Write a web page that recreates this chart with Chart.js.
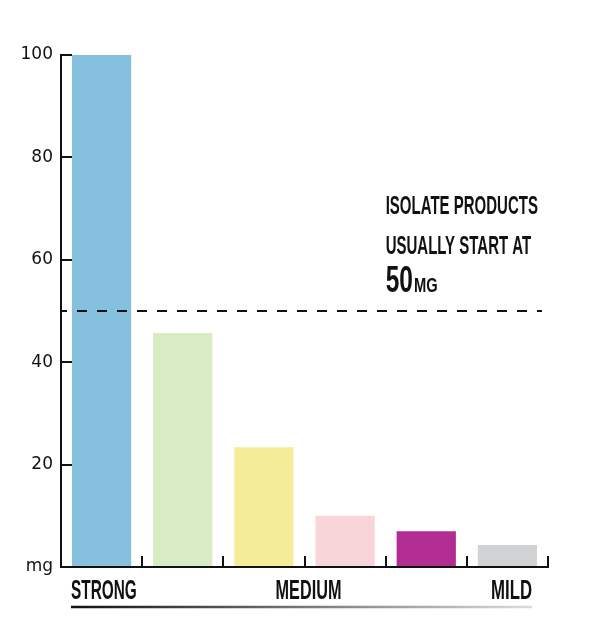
<!DOCTYPE html>
<html>
<head>
<meta charset="utf-8">
<script src="https://cdn.jsdelivr.net/npm/chart.js@4.4.1/dist/chart.umd.min.js"></script>
<style>
  html, body { margin: 0; padding: 0; background: #fff; }
  #wrap { width: 600px; height: 643px; }
</style>
</head>
<body>
<div id="wrap"><canvas id="chart" width="600" height="643"></canvas></div>
<script>
const categories = ['Product 1', 'Product 2', 'Product 3', 'Product 4', 'Product 5', 'Product 6'];
const values = [100, 45.7, 23.4, 10, 7, 4.3];
const barColors = ['#85c1de', '#d9ebc2', '#f4ec99', '#f7d5d9', '#b22d91', '#d1d2d3'];
const yTicks = [0, 20, 40, 60, 80, 100];
const unitLabel = 'mg';
const strengthLabels = ['STRONG', 'MEDIUM', 'MILD'];
const thresholdValue = 50;
const noteLines = ['ISOLATE PRODUCTS', 'USUALLY START AT'];
const noteValue = '50';
const noteUnit = 'MG';

const condensedFont = '"Liberation Sans", Arial, sans-serif';

// draw bold text squeezed horizontally, to mimic a condensed display face
function drawCondensed(ctx, text, x, y, size, squeeze, align) {
  ctx.save();
  ctx.font = `bold ${size}px ${condensedFont}`;
  ctx.textBaseline = 'alphabetic';
  ctx.textAlign = align || 'left';
  ctx.translate(x, y);
  ctx.scale(squeeze, 1);
  ctx.fillText(text, 0, 0);
  const w = ctx.measureText(text).width * squeeze;
  ctx.restore();
  return w;
}

const extras = {
  id: 'extras',
  afterDraw(chart) {
    const ctx = chart.ctx;
    const xs = chart.scales.x;
    const ys = chart.scales.y;
    const bars = chart.getDatasetMeta(0).data;
    const area = chart.chartArea;

    // threshold line
    const yT = ys.getPixelForValue(thresholdValue);
    ctx.save();
    ctx.strokeStyle = '#111';
    ctx.lineWidth = 2;
    ctx.setLineDash([10, 10]);
    ctx.lineDashOffset = 4;
    ctx.beginPath();
    ctx.moveTo(area.left, yT);
    ctx.lineTo(area.right - 6, yT);
    ctx.stroke();
    ctx.restore();

    // note text
    ctx.fillStyle = '#111';
    const noteX = xs.getPixelForValue(3.5);
    drawCondensed(ctx, noteLines[0], noteX, yT - 97, 25, 0.6);
    drawCondensed(ctx, noteLines[1], noteX, yT - 57, 25, 0.6);
    const w = drawCondensed(ctx, noteValue, noteX, yT - 19, 36, 0.68);
    drawCondensed(ctx, noteUnit, noteX + w + 1, yT - 19, 21, 0.7);

    // strength labels under the axis
    const first = bars[0];
    const last = bars[bars.length - 1];
    const left = first.x - first.width / 2 - 1;
    const right = last.x + last.width / 2 - 5;
    const mid = xs.getPixelForValue(2.5) + 4;
    const baseY = ys.getPixelForValue(0) + 32;
    drawCondensed(ctx, strengthLabels[0], left, baseY, 28, 0.55, 'left');
    drawCondensed(ctx, strengthLabels[1], mid, baseY, 28, 0.58, 'center');
    drawCondensed(ctx, strengthLabels[2], right, baseY, 28, 0.6, 'right');

    // gradient rule
    const g = ctx.createLinearGradient(left, 0, right, 0);
    g.addColorStop(0, '#111');
    g.addColorStop(1, '#dcdcdc');
    ctx.save();
    ctx.strokeStyle = g;
    ctx.lineWidth = 2.5;
    ctx.beginPath();
    ctx.moveTo(left, baseY + 8);
    ctx.lineTo(right, baseY + 8);
    ctx.stroke();
    ctx.restore();
  },
};

new Chart(document.getElementById('chart'), {
  type: 'bar',
  data: {
    labels: categories,
    datasets: [{
      data: values,
      backgroundColor: barColors,
      borderWidth: 0,
      barPercentage: 0.73,
      categoryPercentage: 1,
    }],
  },
  options: {
    responsive: false,
    animation: false,
    devicePixelRatio: 1,
    layout: { padding: { top: 55, right: 52, left: 0, bottom: 0 } },
    plugins: { legend: { display: false }, tooltip: { enabled: false } },
    scales: {
      x: {
        afterFit: (s) => { s.height = 76; },
        ticks: { display: false },
        border: { color: '#111', width: 2 },
        grid: { drawOnChartArea: false, color: '#111', lineWidth: 2, tickLength: -11, offset: true },
      },
      y: {
        min: 0,
        max: 100,
        afterFit: (s) => { s.width = 61; },
        afterBuildTicks: (s) => { s.ticks = yTicks.map(v => ({ value: v })); },
        ticks: {
          padding: 19,
          color: '#111',
          font: { family: '"DejaVu Sans", sans-serif', size: 17 },
          callback: (v) => (v === 0 ? unitLabel : v),
        },
        border: { color: '#111', width: 2 },
        grid: { drawOnChartArea: false, color: '#111', lineWidth: 2, tickLength: -11 },
      },
    },
  },
  plugins: [extras],
});
</script>
</body>
</html>
